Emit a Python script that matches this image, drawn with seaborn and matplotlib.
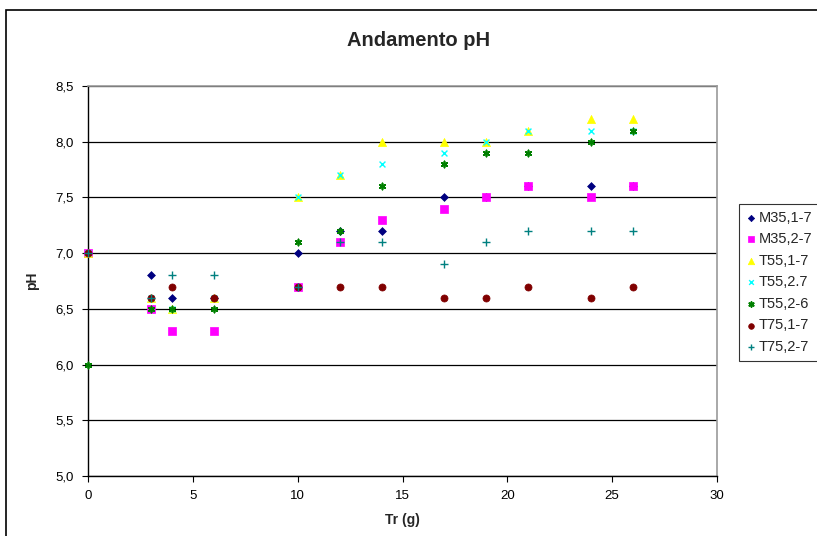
import matplotlib
matplotlib.use("Agg")
import matplotlib.pyplot as plt
import seaborn as sns
import pandas as pd
from matplotlib.ticker import FuncFormatter, MultipleLocator
from matplotlib.patches import Rectangle

sns.set_theme(style="white")
plt.rcParams['font.family'] = ['Liberation Sans', 'DejaVu Sans']

tr = [0, 3, 4, 6, 10, 12, 14, 17, 19, 21, 24, 26]
m35_1_7 = [7.0, 6.8, 6.6, 6.6, 7.0, 7.2, 7.2, 7.5, 7.5, 7.6, 7.6, 7.6]
m35_2_7 = [7.0, 6.5, 6.3, 6.3, 6.7, 7.1, 7.3, 7.4, 7.5, 7.6, 7.5, 7.6]
t55_1_7 = [7.0, 6.6, 6.5, 6.6, 7.5, 7.7, 8.0, 8.0, 8.0, 8.1, 8.2, 8.2]
t55_2p7 = [7.0, 6.6, 6.5, 6.6, 7.5, 7.7, 7.8, 7.9, 8.0, 8.1, 8.1, 8.1]
t55_2_6 = [6.0, 6.5, 6.5, 6.5, 7.1, 7.2, 7.6, 7.8, 7.9, 7.9, 8.0, 8.1]
t75_1_7 = [7.0, 6.6, 6.7, 6.6, 6.7, 6.7, 6.7, 6.6, 6.6, 6.7, 6.6, 6.7]
t75_2_7 = [7.0, 6.6, 6.8, 6.8, 6.7, 7.1, 7.1, 6.9, 7.1, 7.2, 7.2, 7.2]

series_names = ["M35,1-7", "M35,2-7", "T55,1-7", "T55,2.7", "T55,2-6", "T75,1-7", "T75,2-7"]
series_vals = [m35_1_7, m35_2_7, t55_1_7, t55_2p7, t55_2_6, t75_1_7, t75_2_7]
colors = ["#000080", "#FF00FF", "#FFFF00", "#00FFFF", "#008000", "#800000", "#008080"]
markers = ["D", "s", "^", "x", "X", "o", "+"]
sizes = [16, 26, 34, 18, 20, 26, 26]

fig = plt.figure(figsize=(8.17, 5.36), dpi=100)
fig.patch.set_facecolor("white")
ax = fig.add_axes([88/817, 60/536, (717-88)/817, (476-86)/536])

for name, vals, c, m, s in zip(series_names, series_vals, colors, markers, sizes):
    df = pd.DataFrame({"x": tr, "y": vals})
    if m in ("x", "+"):
        sns.scatterplot(data=df, x="x", y="y", ax=ax, marker=m, color=c, s=s,
                        linewidth=1.0, label=name, zorder=3, clip_on=False)
    elif m == "X":
        sns.scatterplot(data=df, x="x", y="y", ax=ax, marker=(6, 2, 0), color=c, s=s,
                        linewidth=1.2, label=name, zorder=3, clip_on=False)
    else:
        sns.scatterplot(data=df, x="x", y="y", ax=ax, marker=m, color=c, s=s,
                        edgecolor=c, linewidth=0.5, label=name, zorder=3, clip_on=False)

ax.set_xlim(0, 30)
ax.set_ylim(5.0, 8.5)
ax.xaxis.set_major_locator(MultipleLocator(5))
ax.yaxis.set_major_locator(MultipleLocator(0.5))
ax.yaxis.set_major_formatter(FuncFormatter(lambda v, p: f"{v:.1f}".replace('.', ',')))
ax.grid(axis='y', color='black', linewidth=0.9)
ax.set_axisbelow(True)
ax.tick_params(axis='both', which='major', direction='out', length=4, width=0.8,
               colors='black', labelsize=9.5, bottom=True, left=True, pad=6)
for side in ["left", "bottom"]:
    ax.spines[side].set_color("black")
    ax.spines[side].set_linewidth(1.0)
for side in ["top", "right"]:
    ax.spines[side].set_color("#999999")
    ax.spines[side].set_linewidth(1.2)

ax.set_xlabel("Tr (g)", fontsize=10, fontweight='bold', labelpad=8)
ax.set_ylabel("pH", fontsize=10, fontweight='bold', labelpad=12)
fig.text(419/817, 1 - 40/536, "Andamento pH", ha='center', va='center',
         fontsize=14.5, fontweight='bold')

ax.legend_.remove()
handles, labels = ax.get_legend_handles_labels()
leg = fig.legend(handles, labels, loc='upper left', bbox_to_anchor=(739/817, 1 - 204/536),
                 frameon=True, fancybox=False, fontsize=10.5, handletextpad=0.1,
                 handlelength=0.8, borderpad=0.45, labelspacing=0.52, borderaxespad=0,
                 markerscale=0.8)
leg.get_frame().set_edgecolor('black')
leg.get_frame().set_linewidth(0.8)

fig.patches.append(Rectangle((6/817, -0.1), 1.2, 1 - 10/536 + 0.1, transform=fig.transFigure,
                             fill=False, edgecolor='black', linewidth=1.2))

fig.savefig("out.png", dpi=100, facecolor="white")
